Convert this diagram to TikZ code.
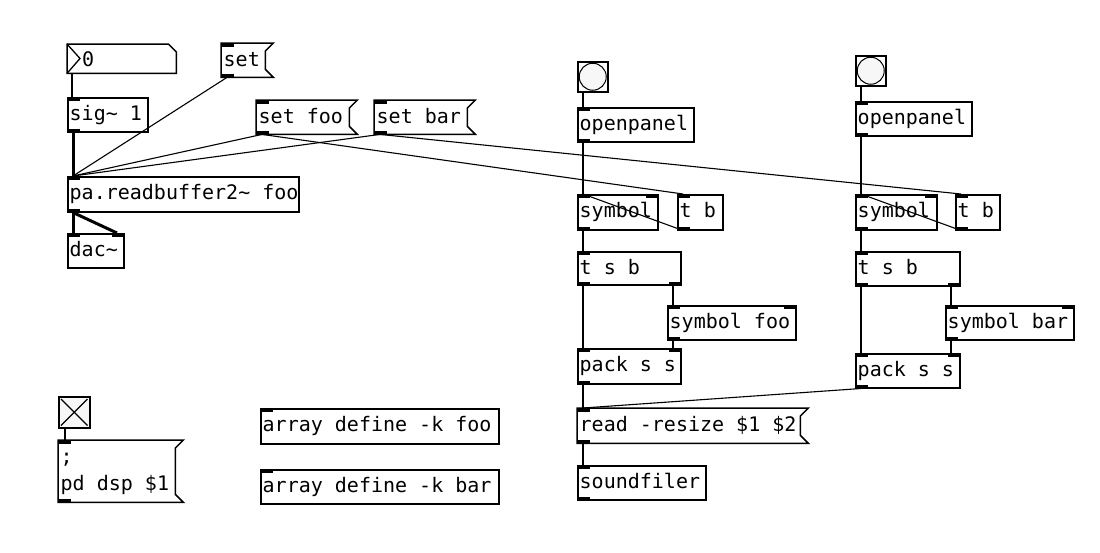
\documentclass[tikz,border=0pt]{standalone}
\usepackage{fontspec}
\newfontfamily\pdfontfam{DejaVu Sans Mono}
\usetikzlibrary{calc}
\newcommand\pdtextfont{\pdfontfam\fontsize{20}{27}\selectfont}
\tikzset{
  pdbox/.style={draw, line width=1.5pt, inner sep=0pt, anchor=north west},
  pdhid/.style={inner sep=0pt, anchor=north west},
  pdtext/.style={font=\pdtextfont, anchor=base west, inner sep=0pt},
  pdline/.style={line width=1.5pt, line join=miter},
  ctl/.style={line width=1.1pt},
  sig/.style={line width=3pt},
  bngcirc/.style={line width=1pt, fill=black!3},
}
\newcommand\pdobj[6]{%
  \node[pdbox, minimum width=#4, minimum height=#5] (#1) at (#2,#3) {};
  \node[pdtext] (#1-t) at ($(#1.north west)+(2.5,23)$) {#6};}
\newcommand\pdmsgbox[6]{%
  \node[pdhid, minimum width=#4, minimum height=#5] (#1) at (#2,#3) {};
  \draw[pdline] (#1.north west) -- (#1.north east) -- ($(#1.north east)+(-8,8)$)
     -- ($(#1.south east)+(-8,-8)$) -- (#1.south east) -- (#1.south west) -- cycle;
  \node[pdtext] (#1-t) at ($(#1.north west)+(2.5,23)$) {#6};}
\newcommand\inL[1]{\fill (#1.north west) rectangle ++(13,3.5);}
\newcommand\inR[1]{\fill ($(#1.north east)+(-13,0)$) rectangle ++(13,3.5);}
\newcommand\outL[1]{\fill (#1.south west) rectangle ++(13,-3.5);}
\newcommand\outR[1]{\fill (#1.south east) rectangle ++(-13,-3.5);}
\newcommand\conn[5][ctl]{\draw[#1] ($(#2.south west)+(#3,0)$) -- ($(#4.north west)+(#5,0)$);}
\begin{document}
\begin{tikzpicture}[x=1pt,y=-1pt]
\fill[white] (0,0) rectangle (1100,552);
\useasboundingbox (0,0) rectangle (1100,552);

% ---------- left part ----------
\node[pdhid, minimum width=109, minimum height=29] (num) at (67,44) {};
\draw[pdline] (num.north west) -- ($(num.north east)+(-8,0)$) -- ($(num.north east)+(0,8)$)
   -- (num.south east) -- (num.south west) -- cycle;
\draw[line width=1.3pt] (num.north west) -- ($(num.north west)+(13,14.5)$) -- (num.south west);
\node[pdtext] (num-t) at ($(num.north west)+(15,22)$) {0};

\pdobj{sig}{67}{97}{80}{34}{sig\char`~\ 1}
\pdmsgbox{set}{221}{43}{52}{34}{set}
\pdmsgbox{setfoo}{256}{100}{101}{34}{set foo}
\pdmsgbox{setbar}{374}{100}{101}{34}{set bar}
\pdobj{pa}{67}{176}{231}{35}{pa.readbuffer2\char`~\ foo}
\pdobj{dac}{67}{233}{56}{34}{dac\char`~}

\node[pdbox, fill=black!3, minimum width=31, minimum height=31] (tgl) at (58,396) {};
\draw[line width=1.4pt] ($(tgl.north west)+(3,3)$) -- ($(tgl.south east)+(-3,-3)$);
\draw[line width=1.4pt] ($(tgl.north east)+(-3,3)$) -- ($(tgl.south west)+(3,-3)$);
\node[pdhid, minimum width=125, minimum height=62] (dsp) at (58,440) {};
\draw[pdline] (dsp.north west) -- (dsp.north east) -- ($(dsp.north east)+(-8,8)$)
   -- ($(dsp.south east)+(-8,-8)$) -- (dsp.south east) -- (dsp.south west) -- cycle;
\node[pdtext] (dsp-t1) at ($(dsp.north west)+(2.5,23)$) {;};
\node[pdtext] (dsp-t2) at ($(dsp.north west)+(2.5,50)$) {pd dsp \$1};

\pdobj{arrfoo}{260}{408}{238}{35}{array define -k foo}
\pdobj{arrbar}{260}{469}{238}{34}{array define -k bar}

% ---------- group 1 ----------
\node[pdbox, minimum width=30, minimum height=30] (bng1) at (577,61) {};
\draw[bngcirc] (bng1.center) circle[radius=13.5pt];
\pdobj{op1}{577}{107}{116}{34}{openpanel}
\pdobj{sym1}{577}{194}{80}{35}{symbol}
\pdobj{tb1}{677}{194}{45}{35}{t b}
\pdobj{tsb1}{577}{251}{103}{33}{t s b}
\pdobj{symfoo}{667}{305}{128}{34}{symbol foo}
\pdobj{pack1}{577}{348}{103}{35}{pack s s}
\pdmsgbox{read}{577}{408}{231}{35}{read -resize \$1 \$2}
\pdobj{sf}{577}{465}{128}{34}{soundfiler}

% ---------- group 2 ----------
\node[pdbox, minimum width=30, minimum height=30] (bng2) at (855,55) {};
\draw[bngcirc] (bng2.center) circle[radius=13.5pt];
\pdobj{op2}{855}{101}{116}{34}{openpanel}
\pdobj{sym2}{855}{194}{81}{35}{symbol}
\pdobj{tb2}{955}{194}{44}{35}{t b}
\pdobj{tsb2}{855}{251}{104}{34}{t s b}
\pdobj{symbar}{945}{305}{128}{34}{symbol bar}
\pdobj{pack2}{855}{353}{104}{34}{pack s s}

% ---------- iolets ----------
\inL{sig}\outL{sig}
\inL{set}\outL{set}
\inL{setfoo}\outL{setfoo}
\inL{setbar}\outL{setbar}
\inL{pa}\outL{pa}
\inL{dac}\inR{dac}
\inL{dsp}\outL{dsp}
\inL{arrfoo}\inL{arrbar}
\inL{op1}\outL{op1}
\inL{sym1}\inR{sym1}\outL{sym1}
\inL{tb1}\outL{tb1}
\inL{tsb1}\outL{tsb1}\outR{tsb1}
\inL{symfoo}\inR{symfoo}\outL{symfoo}
\inL{pack1}\inR{pack1}\outL{pack1}
\inL{read}\outL{read}
\inL{sf}\outL{sf}
\inL{op2}\outL{op2}
\inL{sym2}\inR{sym2}\outL{sym2}
\inL{tb2}\outL{tb2}
\inL{tsb2}\outL{tsb2}\outR{tsb2}
\inL{symbar}\inR{symbar}\outL{symbar}
\inL{pack2}\inR{pack2}\outL{pack2}

% ---------- connections ----------
\conn{num}{5}{sig}{5}
\conn[sig]{sig}{6}{pa}{6}
\conn{set}{6}{pa}{6}
\conn{setfoo}{6}{pa}{6}
\conn{setbar}{6}{pa}{6}
\conn[sig]{pa}{6}{dac}{6}
\conn[sig]{pa}{6}{dac}{50}
\conn{setfoo}{6}{tb1}{6}
\conn{setbar}{6}{tb2}{6}
\conn{tgl}{7}{dsp}{7}

\conn{bng1}{6}{op1}{6}
\conn{op1}{6}{sym1}{6}
\conn{tb1}{6}{sym1}{6}
\conn{sym1}{6}{tsb1}{6}
\conn{tsb1}{6}{pack1}{6}
\conn{tsb1}{96}{symfoo}{6}
\conn{symfoo}{6}{pack1}{96}
\conn{pack1}{6}{read}{6}
\conn{pack2}{6}{read}{6}
\conn{read}{6}{sf}{6}

\conn{bng2}{6}{op2}{6}
\conn{op2}{6}{sym2}{6}
\conn{tb2}{6}{sym2}{6}
\conn{sym2}{6}{tsb2}{6}
\conn{tsb2}{6}{pack2}{6}
\conn{tsb2}{96}{symbar}{6}
\conn{symbar}{6}{pack2}{96}
\end{tikzpicture}
\end{document}
